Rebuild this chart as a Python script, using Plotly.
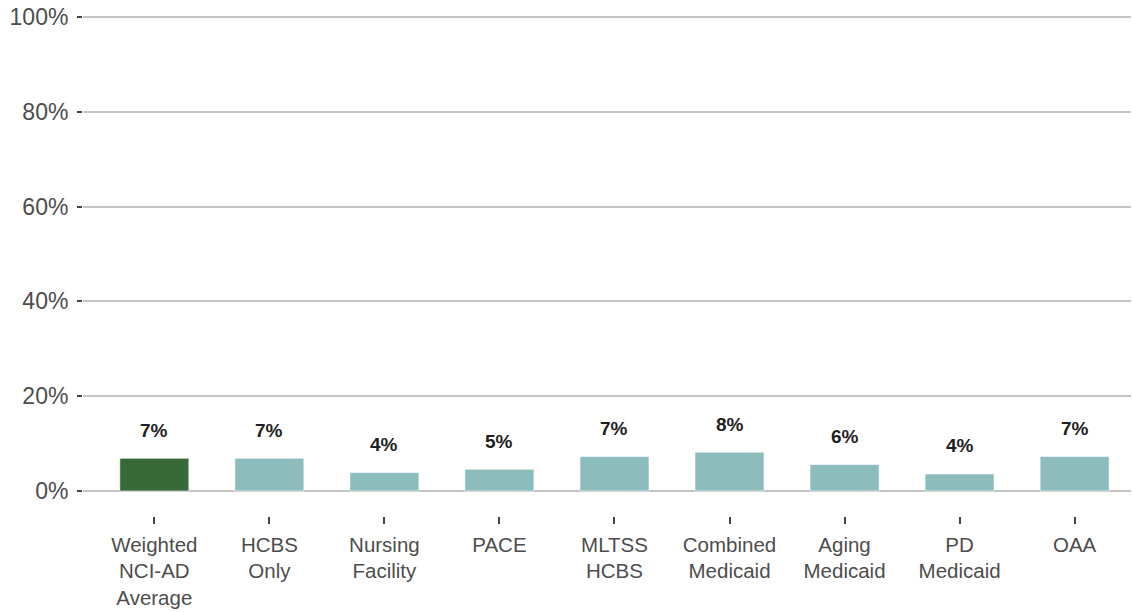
import plotly.graph_objects as go

# Share of respondents by programme group
categories = [
    "Weighted<br>NCI-AD<br>Average",
    "HCBS<br>Only",
    "Nursing<br>Facility",
    "PACE",
    "MLTSS<br>HCBS",
    "Combined<br>Medicaid",
    "Aging<br>Medicaid",
    "PD<br>Medicaid",
    "OAA",
]
values = [6.9, 6.9, 3.9, 4.6, 7.3, 8.2, 5.6, 3.6, 7.3]
bar_colors = ["#386a39"] + ["#8cbcbc"] * 8

y_ticks = [0, 20, 40, 60, 80, 100]
y_tick_labels = [f"{t}%" for t in y_ticks]

FONT = "Liberation Sans, Arial, sans-serif"

fig = go.Figure()
fig.add_trace(go.Bar(
    x=categories,
    y=values,
    width=0.6,
    marker=dict(color=bar_colors, line=dict(color="rgba(255,255,255,0.6)", width=1)),
    hoverinfo="x+y",
))

for c, v in zip(categories, values):
    fig.add_annotation(
        x=c, y=v, text=f"{v:.0f}%", showarrow=False,
        yanchor="middle", yshift=28,
        font=dict(family=FONT, size=19, color="#1f1f1f", weight="bold"),
    )

fig.update_layout(
    width=1132, height=612,
    margin=dict(l=83, r=1, t=0, b=96, autoexpand=False),
    paper_bgcolor="white", plot_bgcolor="white",
    showlegend=False,
    font=dict(family=FONT, size=20, color="#4d4d4d"),
    bargap=0.4,
)
fig.update_xaxes(
    type="category",
    range=[-0.62, 8.49],
    automargin=False,
    showgrid=False, zeroline=False, showline=False,
    ticks="outside", ticklen=7, tickwidth=1.5, tickcolor="#444444",
    ticklabelstandoff=3,
    tickfont=dict(family=FONT, size=20.5, color="#4d4d4d"),
)
fig.update_yaxes(
    range=[-5.27, 103.59],
    automargin=False,
    tickvals=y_ticks, ticktext=y_tick_labels,
    showgrid=True, gridcolor="#c4c4c4", gridwidth=1.5,
    zeroline=False, showline=False,
    ticks="outside", ticklen=5, tickwidth=1.5, tickcolor="#444444",
    ticklabelstandoff=4,
    tickfont=dict(family=FONT, size=23, color="#4d4d4d"),
)

fig.write_html("out.html")
